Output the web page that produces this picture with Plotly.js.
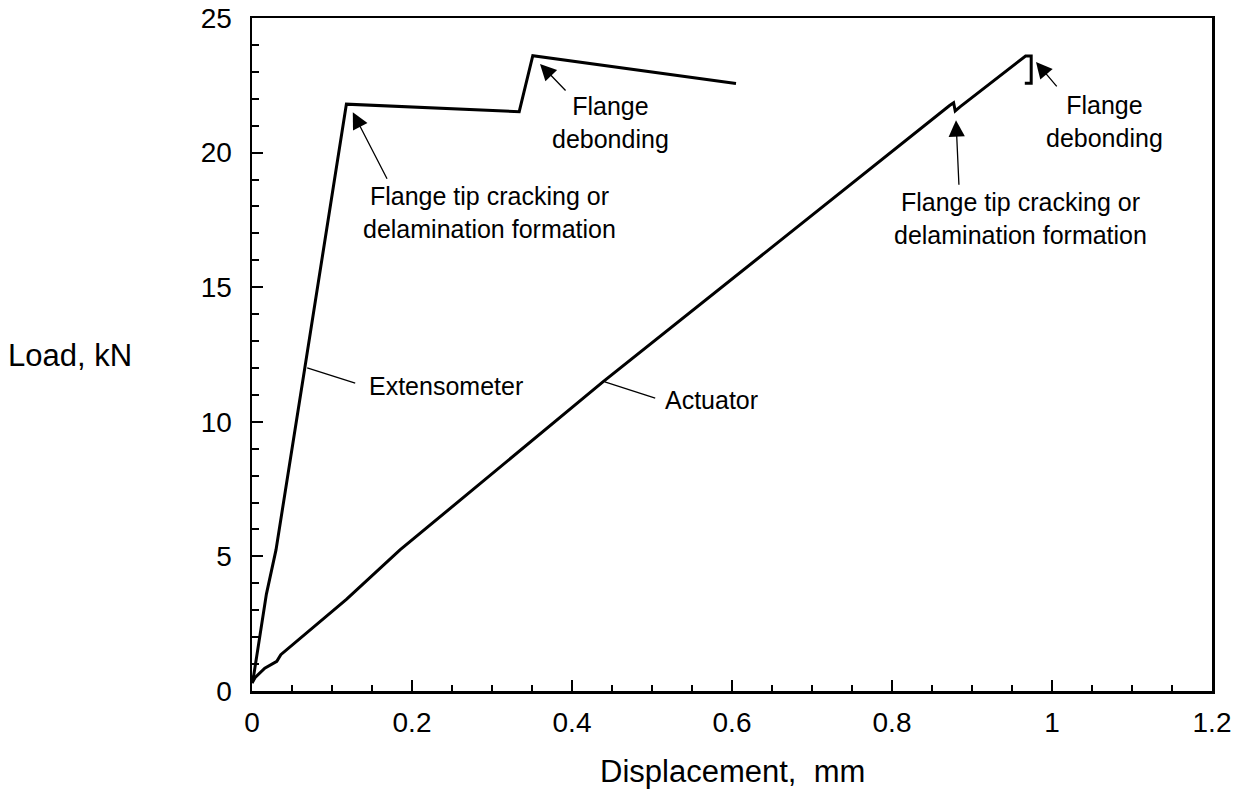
<!DOCTYPE html>
<html>
<head>
<meta charset="utf-8">
<script src="https://cdn.plot.ly/plotly-3.0.1.min.js"></script>
<style>html,body{margin:0;padding:0;background:#fff;}#chart{width:1246px;height:793px;}</style>
</head>
<body>
<div id="chart"></div>
<script>
// Extensometer curve (displacement mm, load kN)
const extX = [0, 0.002, 0.018, 0.030, 0.066, 0.0996, 0.118, 0.334, 0.351, 0.605];
const extY = [0.3, 0.55, 3.6, 5.24, 12.0, 18.3, 21.8, 21.52, 23.6, 22.57];

// Actuator curve
const actX = [0, 0.004, 0.016, 0.031, 0.036, 0.118, 0.185, 0.439, 0.872, 0.877, 0.879, 0.885, 0.967, 0.974, 0.974, 0.966];
const actY = [0.3, 0.5, 0.85, 1.1, 1.35, 3.4, 5.24, 11.49, 21.75, 21.85, 21.55, 21.7, 23.59, 23.59, 22.58, 22.58];

const xTickVals = [0, 0.2, 0.4, 0.6, 0.8, 1, 1.2];
const xTickText = ["0", "0.2", "0.4", "0.6", "0.8", "1", "1.2"];
const yTickVals = [0, 5, 10, 15, 20, 25];
const yTickText = ["0", "5", "10", "15", "20", "25"];

const FONT = "'Liberation Sans', Arial, Helvetica, sans-serif";
const FS = 25;
const TFS = 28;
const AFS = 31;

const traces = [
  {x: extX, y: extY, mode: 'lines', line: {color: '#000', width: 3}, name: 'Extensometer', hoverinfo: 'skip'},
  {x: actX, y: actY, mode: 'lines', line: {color: '#000', width: 3}, name: 'Actuator', hoverinfo: 'skip'}
];

function txt(text, x, y, extra) {
  return Object.assign({text: text, x: x, y: y, xref: 'x', yref: 'y', showarrow: false,
    xanchor: 'center', yanchor: 'middle', align: 'center',
    font: {family: FONT, size: FS, color: '#000'}}, extra || {});
}
function arrow(x, y, ax, ay) {
  return {text: '', x: x, y: y, xref: 'x', yref: 'y', ax: ax, ay: ay, showarrow: true,
    arrowhead: 2, arrowsize: 2.5, arrowwidth: 1.3, arrowcolor: '#000', standoff: 0, startstandoff: 0};
}

const annotations = [
  // left labels
  txt('Flange tip cracking or<br>delamination formation', 0.297, 17.76),
  arrow(0.126, 21.5, 35, 68),
  // middle debonding
  txt('Flange<br>debonding', 0.4475, 21.1),
  arrow(0.36, 23.29, 27, 28),
  // right debonding
  txt('Flange<br>debonding', 1.066, 21.14),
  arrow(0.98, 23.37, 22, 26),
  // right tip label
  txt('Flange tip cracking or<br>delamination formation', 0.96, 17.57),
  arrow(0.880, 21.2, 3, 66),
  // curve labels
  txt('Extensometer', 0.2425, 11.33),
  txt('Actuator', 0.574, 10.8),
  // axis titles
  {text: 'Load, kN', xref: 'paper', yref: 'paper', x: -0.1896, y: 0.499, showarrow: false,
   xanchor: 'center', yanchor: 'middle', font: {family: FONT, size: AFS, color: '#000'}},
  {text: 'Displacement,  mm', xref: 'paper', yref: 'paper', x: 0.5, y: -0.12, showarrow: false,
   xanchor: 'center', yanchor: 'middle', font: {family: FONT, size: AFS, color: '#000'}}
];

const shapes = [
  {type: 'line', xref: 'x', yref: 'y', x0: 0.069, y0: 12.0, x1: 0.129, y1: 11.44, line: {color: '#000', width: 1.3}},
  {type: 'line', xref: 'x', yref: 'y', x0: 0.441, y0: 11.48, x1: 0.504, y1: 10.88, line: {color: '#000', width: 1.3}}
];

const axisCommon = {
  showgrid: false, zeroline: false, showline: true, linecolor: '#000', linewidth: 2.5, mirror: true,
  ticks: 'inside', ticklen: 11, tickwidth: 2, tickcolor: '#000',
  tickfont: {family: FONT, size: TFS, color: '#000'}
};

const layout = {
  width: 1246, height: 793,
  margin: {l: 252, r: 34, t: 18, b: 102},
  paper_bgcolor: '#fff', plot_bgcolor: '#fff',
  showlegend: false,
  xaxis: Object.assign({}, axisCommon, {
    range: [0, 1.2], tickvals: xTickVals, ticktext: xTickText,
    minor: {dtick: 0.05, ticks: 'inside', ticklen: 6, tickwidth: 2, tickcolor: '#000', showgrid: false},
    ticklabelstandoff: 5
  }),
  yaxis: Object.assign({}, axisCommon, {
    range: [0, 25], tickvals: yTickVals, ticktext: yTickText,
    minor: {dtick: 1, ticks: 'inside', ticklen: 7, tickwidth: 2, tickcolor: '#000', showgrid: false},
    ticklabelstandoff: 12
  }),
  annotations: annotations,
  shapes: shapes
};

Plotly.newPlot('chart', traces, layout, {displayModeBar: false, staticPlot: true});
</script>
</body>
</html>
